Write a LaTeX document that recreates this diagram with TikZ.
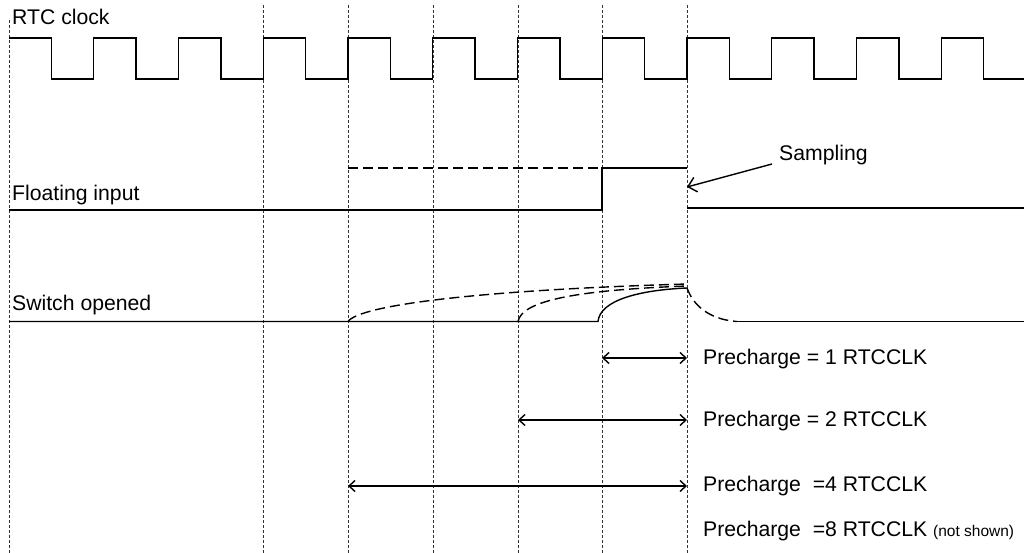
\documentclass[tikz,border=0pt]{standalone}
\usepackage{fontspec}
\setmainfont{Liberation Sans}
\usepackage{tikz}
\usetikzlibrary{arrows.meta,positioning,calc}
\tikzset{sig/.style={line width=1.4pt,line join=miter},
  ghost/.style={sig,dash pattern=on 10pt off 5pt},
  gridline/.style={line width=0.8pt,dash pattern=on 3pt off 2pt,black!80},
  lbl/.style={inner sep=0pt,anchor=base west,font=\fontsize{21.2}{24}\selectfont}}

\begin{document}
\begin{tikzpicture}[x=1pt, y=-1pt, >={Straight Barb[length=6pt,width=11pt]}]
        \useasboundingbox (0,0) rectangle (1024,553);
        % time grid
        \draw[gridline] (9,20) -- (9,553);
        \foreach \x in {263,348,433,518,602,687}
            \draw[gridline] (\x,5) -- (\x,553);
        % clock
        \draw[sig] (9,38) foreach \k in {0,...,10} { -- ++(42.4,0) -- ++(0,41) -- ++(42.35,0) -- ++(0,-41) }
            -- ++(42.4,0) -- ++(0,41) -- (1024,79);
        % floating input
        \draw[sig] (9,210) -- (602,210) -- (602,168) -- (687,168);
        \draw[sig] (687,208) -- (1024,208);
        \draw[ghost] (348,168) -- (602,168);
        % switch opened
        \draw[sig] (9,321.5) -- (598,321.5) .. controls (600,300) and (640,290) .. (687,288);
        \draw[ghost] (348,321.5) .. controls (360,305) and (480,290) .. (687,284);
        \draw[ghost] (518,321.5) .. controls (522,300) and (580,290) .. (687,286);
        \draw[ghost] (687,288) .. controls (695,310) and (715,320) .. (737,321.5);
        \draw[sig] (737,321.5) -- (1024,321.5);
        % labels
        \node[lbl] (clk) at (12,25) {RTC clock};
        \node[lbl] (fin) at (12,201) {Floating input};
        \node[lbl] (swo) at (12,310) {Switch opened};
        \node[lbl] (samp) at (779,161) {Sampling};
        \node[lbl] (pc1) at (703,364) {Precharge = 1 RTCCLK};
        \node[lbl] (pc2) at (703,426) {Precharge = 2 RTCCLK};
        \node[lbl] (pc4) at (703,491) {Precharge \ =4 RTCCLK};
        \node[lbl] (pc8) at (703,536) {Precharge \ =8 RTCCLK {\fontsize{15.5}{17}\selectfont(not shown)}};
        % arrows
        \coordinate (ss) at (772,164);
        \coordinate (st) at (687,187);
        \coordinate (a1) at (602,358);
        \coordinate (b1) at (687,358);
        \coordinate (a2) at (518,420);
        \coordinate (b2) at (687,420);
        \coordinate (a4) at (348,486);
        \coordinate (b4) at (687,486);
        \draw[-{Straight Barb[length=8pt,width=15pt]},line width=1.4pt] (ss) -- (st);
        \draw[<->,line width=1.4pt] (a1) -- (b1);
        \draw[<->,line width=1.4pt] (a2) -- (b2);
        \draw[<->,line width=1.4pt] (a4) -- (b4);
\end{tikzpicture}
\end{document}
